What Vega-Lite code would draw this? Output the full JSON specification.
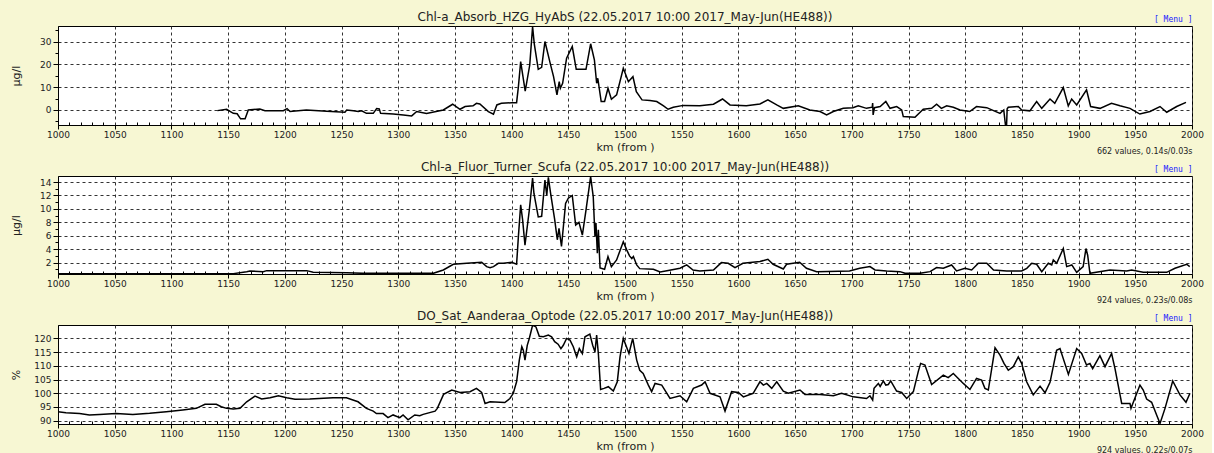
{
  "$schema": "https://vega.github.io/schema/vega-lite/v6.json",
  "background": "#F7F7D3",
  "padding": {"left": 9, "top": 10, "right": 8, "bottom": 0},
  "spacing": 51,
  "bounds": "flush",
  "datasets": {
    "abs": [
      {"km":1140.5,"v":-0.3},{"km":1148.7,"v":0.3},{"km":1154.6,"v":-1.5},{"km":1158,"v":-1.7},{"km":1161,"v":-3.9},{"km":1165,"v":-3.9},{"km":1167.8,"v":0},{"km":1178,"v":0.4},{"km":1182.5,"v":-0.3},{"km":1198.7,"v":-0.3},{"km":1202,"v":0.6},{"km":1204.6,"v":-0.7},{"km":1219,"v":0},{"km":1237,"v":-0.6},{"km":1253,"v":-1},{"km":1254.6,"v":0},{"km":1260.4,"v":-0.4},{"km":1264.8,"v":-0.7},{"km":1267.8,"v":-0.4},{"km":1272,"v":-1.5},{"km":1278,"v":-1.5},{"km":1281,"v":0.6},{"km":1283.3,"v":0.4},{"km":1284.5,"v":-1.5},{"km":1295.7,"v":-1.8},{"km":1304.5,"v":-2.2},{"km":1311.9,"v":-2.6},{"km":1316.3,"v":-0.7},{"km":1325,"v":-1.5},{"km":1339.8,"v":0},{"km":1348,"v":2.5},{"km":1354.5,"v":0.3},{"km":1359,"v":1.5},{"km":1366,"v":1.8},{"km":1369,"v":2.9},{"km":1372,"v":2.6},{"km":1379.5,"v":-0.7},{"km":1384,"v":-1.9},{"km":1387,"v":2.2},{"km":1391,"v":2.9},{"km":1400,"v":3.2},{"km":1404.4,"v":3.2},{"km":1406,"v":10.2},{"km":1408,"v":21.2},{"km":1412,"v":8.3},{"km":1416,"v":19.7},{"km":1418.5,"v":36.5},{"km":1420,"v":29},{"km":1423.5,"v":17.8},{"km":1426.5,"v":18.7},{"km":1429.4,"v":30},{"km":1434,"v":20.5},{"km":1437,"v":14.6},{"km":1440,"v":6.6},{"km":1442,"v":12.4},{"km":1443,"v":9.5},{"km":1445,"v":11.7},{"km":1448.5,"v":22.7},{"km":1453.5,"v":27.8},{"km":1457,"v":17.8},{"km":1465.6,"v":17.8},{"km":1469.7,"v":29},{"km":1473,"v":22},{"km":1475,"v":11.7},{"km":1476,"v":13.9},{"km":1479,"v":3.7},{"km":1482,"v":3.7},{"km":1485,"v":9.5},{"km":1488,"v":4.7},{"km":1492.6,"v":6.6},{"km":1498.5,"v":18.3},{"km":1503,"v":12.4},{"km":1507,"v":14.6},{"km":1510,"v":8},{"km":1515,"v":4.4},{"km":1522,"v":4.1},{"km":1528,"v":3.7},{"km":1534,"v":1.8},{"km":1538,"v":0.3},{"km":1542.6,"v":1.2},{"km":1551.4,"v":2},{"km":1566,"v":1.8},{"km":1578,"v":2.5},{"km":1586,"v":4.8},{"km":1592.6,"v":2.2},{"km":1607,"v":1.8},{"km":1619,"v":2.6},{"km":1626,"v":4.4},{"km":1633.8,"v":2.2},{"km":1639.6,"v":0.7},{"km":1652.8,"v":1.8},{"km":1663,"v":0},{"km":1672,"v":-0.7},{"km":1677.8,"v":-2.2},{"km":1683.7,"v":-0.7},{"km":1692.5,"v":0.7},{"km":1701,"v":1},{"km":1705.7,"v":1.8},{"km":1713,"v":0.7},{"km":1718,"v":1.2},{"km":1718.4,"v":3},{"km":1718.8,"v":-2.2},{"km":1720,"v":1.0},{"km":1725,"v":1.5},{"km":1730,"v":3.7},{"km":1733.7,"v":0.7},{"km":1739.6,"v":1.5},{"km":1744,"v":0},{"km":1745.4,"v":-2.9},{"km":1755.7,"v":-3.2},{"km":1763,"v":0.3},{"km":1770.4,"v":0.7},{"km":1774.8,"v":2.5},{"km":1779,"v":0.7},{"km":1783.7,"v":1.8},{"km":1789.5,"v":1.2},{"km":1795.4,"v":0},{"km":1804,"v":-0.7},{"km":1810,"v":1.5},{"km":1819,"v":1},{"km":1825,"v":-0.3},{"km":1830.7,"v":-1.5},{"km":1834,"v":0},{"km":1835.5,"v":-6.6},{"km":1836.5,"v":-6.6},{"km":1837,"v":0.5},{"km":1838,"v":1.2},{"km":1846.8,"v":1.5},{"km":1849.8,"v":0},{"km":1857,"v":-0.4},{"km":1863,"v":3.7},{"km":1867.5,"v":0.7},{"km":1874.8,"v":4.8},{"km":1879,"v":2.9},{"km":1886.5,"v":9.8},{"km":1890.9,"v":1.8},{"km":1893.9,"v":4.8},{"km":1898.3,"v":2.2},{"km":1907,"v":8.8},{"km":1910.6,"v":1.5},{"km":1918.9,"v":0.7},{"km":1929,"v":2.9},{"km":1936.5,"v":1.8},{"km":1945.3,"v":0.7},{"km":1954,"v":-1.8},{"km":1963,"v":-0.7},{"km":1971.8,"v":1.5},{"km":1977.7,"v":-1},{"km":1986.5,"v":1.5},{"km":1994.7,"v":3.3}
    ],
    "fl": [
      {"km":1000,"v":0.35},{"km":1154.6,"v":0.35},{"km":1166.4,"v":0.65},{"km":1169.3,"v":0.75},{"km":1181,"v":0.65},{"km":1184,"v":0.8},{"km":1219.3,"v":0.8},{"km":1225,"v":0.55},{"km":1254.6,"v":0.5},{"km":1269,"v":0.4},{"km":1331,"v":0.4},{"km":1339.8,"v":0.9},{"km":1348.6,"v":1.75},{"km":1360.4,"v":1.9},{"km":1373.6,"v":2.05},{"km":1378,"v":1.4},{"km":1381,"v":1.25},{"km":1384,"v":1.4},{"km":1388.3,"v":1.9},{"km":1392.6,"v":1.9},{"km":1400,"v":2.05},{"km":1404.4,"v":1.75},{"km":1406,"v":5.9},{"km":1408,"v":10.6},{"km":1409.7,"v":8.4},{"km":1411.8,"v":4.6},{"km":1415.6,"v":9.8},{"km":1418.5,"v":14.6},{"km":1419.7,"v":12.3},{"km":1423.5,"v":8.8},{"km":1426.5,"v":8.9},{"km":1429.4,"v":14.3},{"km":1431,"v":12},{"km":1432.4,"v":14.7},{"km":1434.4,"v":12.3},{"km":1438,"v":8.4},{"km":1440.3,"v":5.4},{"km":1441.8,"v":7.1},{"km":1444,"v":4.4},{"km":1447.6,"v":10.8},{"km":1450,"v":11.6},{"km":1453.5,"v":12},{"km":1456.5,"v":7.6},{"km":1459.4,"v":8},{"km":1462.4,"v":6.1},{"km":1465.6,"v":9.8},{"km":1469.7,"v":14.8},{"km":1472,"v":11.8},{"km":1473.5,"v":5.9},{"km":1474.4,"v":7.9},{"km":1475.6,"v":3.4},{"km":1476.5,"v":6.9},{"km":1478,"v":1.2},{"km":1482,"v":1.0},{"km":1485,"v":2.9},{"km":1488,"v":1.4},{"km":1492.6,"v":2.4},{"km":1498.5,"v":5.1},{"km":1501.5,"v":3.9},{"km":1504,"v":3},{"km":1506,"v":2.6},{"km":1507.4,"v":2.9},{"km":1510.3,"v":1.65},{"km":1513,"v":1.1},{"km":1525,"v":1.0},{"km":1531,"v":0.6},{"km":1537,"v":0.8},{"km":1548.5,"v":1.15},{"km":1554.4,"v":1.65},{"km":1560,"v":0.9},{"km":1566,"v":0.75},{"km":1578,"v":0.9},{"km":1585,"v":2},{"km":1591,"v":1.9},{"km":1597,"v":1.25},{"km":1604,"v":1.9},{"km":1619,"v":2.15},{"km":1626,"v":2.5},{"km":1630.6,"v":1.75},{"km":1639.6,"v":1.05},{"km":1642.5,"v":1.75},{"km":1654,"v":2.05},{"km":1660,"v":1.15},{"km":1669,"v":0.65},{"km":1698,"v":0.75},{"km":1707,"v":1.15},{"km":1716,"v":1.4},{"km":1720.5,"v":0.9},{"km":1730.7,"v":0.75},{"km":1742.5,"v":0.65},{"km":1747,"v":0.4},{"km":1760,"v":0.4},{"km":1769,"v":0.65},{"km":1774.8,"v":1.25},{"km":1780.7,"v":1.15},{"km":1788,"v":1.65},{"km":1792.4,"v":0.75},{"km":1799.8,"v":1.15},{"km":1805.7,"v":0.9},{"km":1811.6,"v":1.9},{"km":1819,"v":1.9},{"km":1825,"v":0.9},{"km":1836.6,"v":0.75},{"km":1849.8,"v":0.75},{"km":1854.3,"v":1.15},{"km":1858.7,"v":1.9},{"km":1863,"v":1.75},{"km":1867.5,"v":0.65},{"km":1873.3,"v":1.9},{"km":1876.3,"v":1.65},{"km":1877.7,"v":2.4},{"km":1880.7,"v":1.9},{"km":1886.5,"v":4.1},{"km":1889.5,"v":1.4},{"km":1894,"v":1.65},{"km":1898.3,"v":0.55},{"km":1904,"v":1.4},{"km":1906.5,"v":4.1},{"km":1908,"v":3.1},{"km":1910,"v":0.4},{"km":1927.7,"v":0.9},{"km":1942.4,"v":0.75},{"km":1946.8,"v":0.9},{"km":1957,"v":0.55},{"km":1977.7,"v":0.55},{"km":1985,"v":1.15},{"km":1995.3,"v":1.75},{"km":1998,"v":1.4}
    ],
    "dosat": [
      {"km":1000,"v":93.3},{"km":1007,"v":92.9},{"km":1019,"v":92.6},{"km":1027.7,"v":92.1},{"km":1036.6,"v":92.3},{"km":1051.3,"v":92.6},{"km":1066,"v":92.3},{"km":1080.8,"v":92.7},{"km":1095.5,"v":93.3},{"km":1110,"v":93.9},{"km":1122,"v":94.5},{"km":1129.6,"v":96},{"km":1139.6,"v":96},{"km":1144,"v":95.1},{"km":1148.7,"v":94.5},{"km":1154.6,"v":94.3},{"km":1160.5,"v":94.5},{"km":1166.4,"v":96.9},{"km":1173.7,"v":99},{"km":1179.6,"v":97.9},{"km":1187,"v":98.4},{"km":1194.3,"v":99.1},{"km":1201.7,"v":98.4},{"km":1209,"v":97.8},{"km":1222,"v":97.9},{"km":1242.5,"v":98.4},{"km":1254.3,"v":98.4},{"km":1264.6,"v":96.9},{"km":1272,"v":94.5},{"km":1278,"v":93.5},{"km":1280.8,"v":92.6},{"km":1286.7,"v":92.6},{"km":1291,"v":91.1},{"km":1295.5,"v":92.1},{"km":1301.4,"v":91.1},{"km":1304.3,"v":92.1},{"km":1308.7,"v":90.3},{"km":1314.6,"v":92.1},{"km":1319,"v":91.8},{"km":1322,"v":92.3},{"km":1332.5,"v":93.5},{"km":1334.5,"v":94.5},{"km":1340,"v":99.6},{"km":1347.2,"v":101.2},{"km":1354.5,"v":100.3},{"km":1363.3,"v":100.6},{"km":1369,"v":101.8},{"km":1373.6,"v":100.3},{"km":1376.6,"v":96.3},{"km":1381,"v":96.9},{"km":1394,"v":96.6},{"km":1398.5,"v":98.1},{"km":1401.5,"v":100},{"km":1404.4,"v":104.2},{"km":1406.8,"v":112.1},{"km":1409,"v":117},{"km":1410.3,"v":115.7},{"km":1411.8,"v":112.1},{"km":1413.8,"v":117.5},{"km":1415.6,"v":120},{"km":1418.5,"v":124.8},{"km":1421.5,"v":124.2},{"km":1424.4,"v":120.8},{"km":1428,"v":120.6},{"km":1432.4,"v":121.2},{"km":1435.3,"v":120.6},{"km":1438,"v":118.8},{"km":1441,"v":117.9},{"km":1443.5,"v":116.3},{"km":1445.6,"v":117.5},{"km":1448.5,"v":120},{"km":1451.5,"v":119.4},{"km":1454.4,"v":117},{"km":1457.4,"v":113.3},{"km":1459.7,"v":116.3},{"km":1462.4,"v":114.5},{"km":1464.7,"v":120.6},{"km":1469,"v":121.6},{"km":1471.5,"v":117.5},{"km":1473.5,"v":115.1},{"km":1475,"v":121.2},{"km":1476.5,"v":114.5},{"km":1478.5,"v":101.4},{"km":1481.5,"v":101.8},{"km":1485.3,"v":102.4},{"km":1489.7,"v":100.8},{"km":1493.2,"v":104.2},{"km":1495.6,"v":113.3},{"km":1498.5,"v":120},{"km":1503.5,"v":114.5},{"km":1506.8,"v":120},{"km":1510.3,"v":112.1},{"km":1513,"v":108.4},{"km":1516,"v":107.2},{"km":1520.6,"v":103},{"km":1523.5,"v":100.6},{"km":1526.5,"v":103.6},{"km":1532.4,"v":103},{"km":1539.7,"v":98.1},{"km":1548.5,"v":99.1},{"km":1554.4,"v":96.9},{"km":1560.3,"v":101.8},{"km":1567.6,"v":103},{"km":1570.6,"v":104.2},{"km":1575,"v":100},{"km":1583.8,"v":98.7},{"km":1588.2,"v":93.5},{"km":1594,"v":100.6},{"km":1600,"v":100.3},{"km":1604.4,"v":98.7},{"km":1613,"v":100},{"km":1619,"v":104.2},{"km":1622,"v":103},{"km":1625,"v":103.6},{"km":1629.4,"v":101.8},{"km":1633.8,"v":104.2},{"km":1639.6,"v":100.8},{"km":1644,"v":100},{"km":1654.3,"v":101.2},{"km":1658.7,"v":99.6},{"km":1672,"v":99.6},{"km":1683.7,"v":99.1},{"km":1691,"v":100},{"km":1701.3,"v":98.7},{"km":1713,"v":98.1},{"km":1716,"v":99.1},{"km":1718.4,"v":97.5},{"km":1719.6,"v":101.8},{"km":1723.4,"v":103.6},{"km":1725,"v":102.5},{"km":1727.8,"v":104.5},{"km":1730,"v":103},{"km":1732.2,"v":103.2},{"km":1734.3,"v":104.5},{"km":1739.5,"v":100.8},{"km":1744,"v":100.3},{"km":1748.4,"v":98.1},{"km":1754.3,"v":100.6},{"km":1758.6,"v":107.9},{"km":1760.7,"v":110.9},{"km":1764.5,"v":110.3},{"km":1770.4,"v":103.2},{"km":1780.7,"v":106.6},{"km":1785,"v":105.7},{"km":1789.5,"v":107.2},{"km":1793.9,"v":105.4},{"km":1798.3,"v":103.6},{"km":1804.2,"v":101.4},{"km":1810,"v":105.4},{"km":1814.5,"v":104.8},{"km":1817.4,"v":101.8},{"km":1820.4,"v":101.2},{"km":1826.3,"v":116.6},{"km":1830.7,"v":113.9},{"km":1834.2,"v":110.9},{"km":1838,"v":108.4},{"km":1842.4,"v":109.7},{"km":1846.8,"v":113.3},{"km":1849.8,"v":110.9},{"km":1854.2,"v":104.2},{"km":1860,"v":99.4},{"km":1866,"v":102.6},{"km":1870.4,"v":100.2},{"km":1874.8,"v":104},{"km":1880.6,"v":115.7},{"km":1883.6,"v":116.3},{"km":1891,"v":106.9},{"km":1898.3,"v":116.3},{"km":1902.7,"v":114.5},{"km":1907,"v":110.3},{"km":1910,"v":110.9},{"km":1912.4,"v":109},{"km":1918.8,"v":113.7},{"km":1923.3,"v":109.7},{"km":1929.1,"v":114.5},{"km":1932.1,"v":109},{"km":1938,"v":96.3},{"km":1945.3,"v":96.3},{"km":1946.2,"v":94.5},{"km":1954.1,"v":103},{"km":1957,"v":101.2},{"km":1960,"v":97.9},{"km":1964.4,"v":96.7},{"km":1968.8,"v":92.1},{"km":1971.8,"v":89},{"km":1976.2,"v":94.5},{"km":1983,"v":104.5},{"km":1989.4,"v":99.4},{"km":1994.7,"v":96.7},{"km":1998.2,"v":100}
    ]
  },
  "vconcat": [
    {
      "width": 1134, "height": 99,
      "data": {"name": "abs"},
      "title": {"text": "Chl-a_Absorb_HZG_HyAbS (22.05.2017 10:00 2017_May-Jun(HE488))", "frame": "group", "anchor": "middle", "baseline": "alphabetic", "offset": -18},
      "layer": [
        {"mark": {"type": "line", "color": "#000", "strokeWidth": 1.5, "clip": true},
         "encoding": {
           "x": {"field": "km", "type": "quantitative", "scale": {"domain": [1000, 2000], "nice": false, "zero": false},
                 "axis": {"values": [1000,1050,1100,1150,1200,1250,1300,1350,1400,1450,1500,1550,1600,1650,1700,1750,1800,1850,1900,1950,2000], "format": "d", "grid": true, "title": "km (from )", "titleY": 25, "titleBaseline": "alphabetic"}},
           "y": {"field": "v", "type": "quantitative", "scale": {"domain": [-6.6, 36.8], "nice": false, "zero": false},
                 "axis": {"values": [0, 10, 20, 30], "grid": true, "title": "µg/l"}}
         }},
        {"mark": {"type": "line", "opacity": 0},
         "encoding": {
           "x": {"field": "km", "type": "quantitative", "axis": {"orient": "top", "labels": false, "ticks": false, "domain": false, "grid": false, "title": "[ Menu ]", "titleAnchor": "end", "titleFont": "DejaVu Sans Mono", "titleFontSize": 8, "titleColor": "#1a1aff", "titlePadding": 3}},
           "y": {"field": "v", "type": "quantitative", "axis": null}
         }},
        {"mark": {"type": "line", "opacity": 0},
         "encoding": {
           "x": {"field": "km", "type": "quantitative", "axis": {"orient": "bottom", "values": [1010,1020,1030,1040,1060,1070,1080,1090,1110,1120,1130,1140,1160,1170,1180,1190,1210,1220,1230,1240,1260,1270,1280,1290,1310,1320,1330,1340,1360,1370,1380,1390,1410,1420,1430,1440,1460,1470,1480,1490,1510,1520,1530,1540,1560,1570,1580,1590,1610,1620,1630,1640,1660,1670,1680,1690,1710,1720,1730,1740,1760,1770,1780,1790,1810,1820,1830,1840,1860,1870,1880,1890,1910,1920,1930,1940,1960,1970,1980,1990], "labels": false, "tickSize": -3, "domain": false, "grid": false, "title": "662 values, 0.14s/0.03s", "titleAnchor": "end", "titleY": 28, "titleBaseline": "alphabetic", "titleFontSize": 8}},
           "y": {"field": "v", "type": "quantitative", "axis": {"orient": "left", "values": [-5, 5, 15, 25, 35], "labels": false, "tickSize": 3, "domain": false, "grid": false, "title": null}}
         }}
      ],
      "resolve": {"axis": {"x": "independent", "y": "independent"}}
    },
    {
      "width": 1134, "height": 98,
      "data": {"name": "fl"},
      "title": {"text": "Chl-a_Fluor_Turner_Scufa (22.05.2017 10:00 2017_May-Jun(HE488))", "frame": "group", "anchor": "middle", "baseline": "alphabetic", "offset": -18},
      "layer": [
        {"mark": {"type": "line", "color": "#000", "strokeWidth": 1.5, "clip": true},
         "encoding": {
           "x": {"field": "km", "type": "quantitative", "scale": {"domain": [1000, 2000], "nice": false, "zero": false},
                 "axis": {"values": [1000,1050,1100,1150,1200,1250,1300,1350,1400,1450,1500,1550,1600,1650,1700,1750,1800,1850,1900,1950,2000], "format": "d", "grid": true, "title": "km (from )", "titleY": 25, "titleBaseline": "alphabetic"}},
           "y": {"field": "v", "type": "quantitative", "scale": {"domain": [0.3, 14.9], "nice": false, "zero": false},
                 "axis": {"values": [2, 4, 6, 8, 10, 12, 14], "grid": true, "title": "µg/l"}}
         }},
        {"mark": {"type": "line", "opacity": 0},
         "encoding": {
           "x": {"field": "km", "type": "quantitative", "axis": {"orient": "top", "labels": false, "ticks": false, "domain": false, "grid": false, "title": "[ Menu ]", "titleAnchor": "end", "titleFont": "DejaVu Sans Mono", "titleFontSize": 8, "titleColor": "#1a1aff", "titlePadding": 3}},
           "y": {"field": "v", "type": "quantitative", "axis": null}
         }},
        {"mark": {"type": "line", "opacity": 0},
         "encoding": {
           "x": {"field": "km", "type": "quantitative", "axis": {"orient": "bottom", "values": [1010,1020,1030,1040,1060,1070,1080,1090,1110,1120,1130,1140,1160,1170,1180,1190,1210,1220,1230,1240,1260,1270,1280,1290,1310,1320,1330,1340,1360,1370,1380,1390,1410,1420,1430,1440,1460,1470,1480,1490,1510,1520,1530,1540,1560,1570,1580,1590,1610,1620,1630,1640,1660,1670,1680,1690,1710,1720,1730,1740,1760,1770,1780,1790,1810,1820,1830,1840,1860,1870,1880,1890,1910,1920,1930,1940,1960,1970,1980,1990], "labels": false, "tickSize": -3, "domain": false, "grid": false, "title": "924 values, 0.23s/0.08s", "titleAnchor": "end", "titleY": 28, "titleBaseline": "alphabetic", "titleFontSize": 8}},
           "y": {"field": "v", "type": "quantitative", "axis": {"orient": "left", "values": [1, 3, 5, 7, 9, 11, 13], "labels": false, "tickSize": 3, "domain": false, "grid": false, "title": null}}
         }}
      ],
      "resolve": {"axis": {"x": "independent", "y": "independent"}}
    },
    {
      "width": 1134, "height": 99,
      "data": {"name": "dosat"},
      "title": {"text": "DO_Sat_Aanderaa_Optode (22.05.2017 10:00 2017_May-Jun(HE488))", "frame": "group", "anchor": "middle", "baseline": "alphabetic", "offset": -18},
      "layer": [
        {"mark": {"type": "line", "color": "#000", "strokeWidth": 1.5, "clip": true},
         "encoding": {
           "x": {"field": "km", "type": "quantitative", "scale": {"domain": [1000, 2000], "nice": false, "zero": false},
                 "axis": {"values": [1000,1050,1100,1150,1200,1250,1300,1350,1400,1450,1500,1550,1600,1650,1700,1750,1800,1850,1900,1950,2000], "format": "d", "grid": true, "title": "km (from )", "titleY": 25, "titleBaseline": "alphabetic"}},
           "y": {"field": "v", "type": "quantitative", "scale": {"domain": [88.8, 124.9], "nice": false, "zero": false},
                 "axis": {"values": [90, 95, 100, 105, 110, 115, 120], "grid": true, "title": "%"}}
         }},
        {"mark": {"type": "line", "opacity": 0},
         "encoding": {
           "x": {"field": "km", "type": "quantitative", "axis": {"orient": "top", "labels": false, "ticks": false, "domain": false, "grid": false, "title": "[ Menu ]", "titleAnchor": "end", "titleFont": "DejaVu Sans Mono", "titleFontSize": 8, "titleColor": "#1a1aff", "titlePadding": 3}},
           "y": {"field": "v", "type": "quantitative", "axis": null}
         }},
        {"mark": {"type": "line", "opacity": 0},
         "encoding": {
           "x": {"field": "km", "type": "quantitative", "axis": {"orient": "bottom", "values": [1010,1020,1030,1040,1060,1070,1080,1090,1110,1120,1130,1140,1160,1170,1180,1190,1210,1220,1230,1240,1260,1270,1280,1290,1310,1320,1330,1340,1360,1370,1380,1390,1410,1420,1430,1440,1460,1470,1480,1490,1510,1520,1530,1540,1560,1570,1580,1590,1610,1620,1630,1640,1660,1670,1680,1690,1710,1720,1730,1740,1760,1770,1780,1790,1810,1820,1830,1840,1860,1870,1880,1890,1910,1920,1930,1940,1960,1970,1980,1990], "labels": false, "tickSize": -3, "domain": false, "grid": false, "title": "924 values, 0.22s/0.07s", "titleAnchor": "end", "titleY": 28, "titleBaseline": "alphabetic", "titleFontSize": 8}},
           "y": {"field": "v", "type": "quantitative", "axis": null}
         }}
      ],
      "resolve": {"axis": {"x": "independent", "y": "independent"}}
    }
  ],
  "config": {
    "font": "DejaVu Sans",
    "view": {"fill": "#ffffff", "stroke": "#000000", "strokeWidth": 1},
    "title": {"font": "DejaVu Sans", "fontSize": 12, "fontWeight": "normal", "color": "#222222"},
    "axis": {
      "labelFont": "DejaVu Sans", "labelFontSize": 9, "labelColor": "#222222",
      "titleFont": "DejaVu Sans", "titleFontSize": 11, "titleFontWeight": "normal", "titleColor": "#222222",
      "domainColor": "#000000", "tickColor": "#000000",
      "gridColor": "#333333", "gridDash": [3, 3], "gridOpacity": 1, "gridWidth": 1
    },
    "axisX": {"tickSize": 4, "labelPadding": 1, "labelFlush": false},
    "axisY": {"tickSize": 5, "labelPadding": 2, "titleX": -37}
  }
}
